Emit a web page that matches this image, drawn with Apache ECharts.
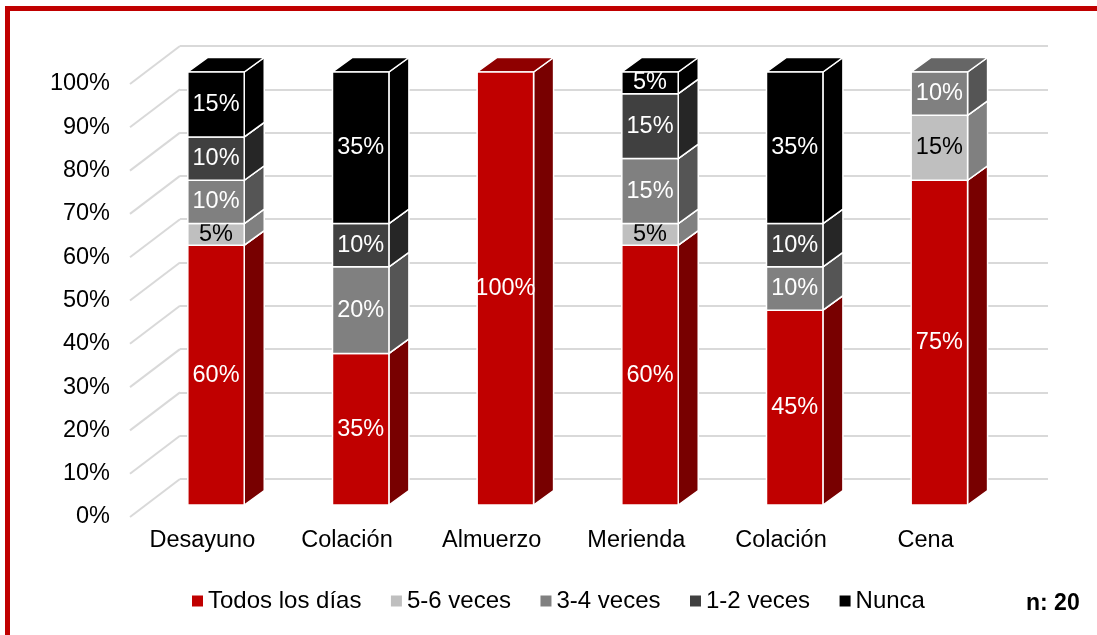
<!DOCTYPE html>
<html>
<head>
<meta charset="utf-8">
<script src="https://cdn.jsdelivr.net/npm/echarts@6/dist/echarts.min.js"></script>
<style>
html,body{margin:0;padding:0;background:#fff;}
#chart{width:1097px;height:635px;}
</style>
</head>
<body>
<div id="chart"></div>
<script>
const categories = ['Desayuno', 'Colación', 'Almuerzo', 'Merienda', 'Colación', 'Cena'];
const seriesNames = ['Todos los días', '5-6 veces', '3-4 veces', '1-2 veces', 'Nunca'];
const todosLosDias = [60, 35, 100, 60, 45, 75];
const cincoSeis = [5, 0, 0, 5, 0, 15];
const tresCuatro = [10, 20, 0, 15, 10, 10];
const unoDos = [10, 10, 0, 15, 10, 0];
const nunca = [15, 35, 0, 5, 35, 0];
const yTicks = [0, 10, 20, 30, 40, 50, 60, 70, 80, 90, 100];
const sampleNote = 'n: 20';

const values = [todosLosDias, cincoSeis, tresCuatro, unoDos, nunca];
const palette = [
  {front: '#C00000', side: '#780000', top: '#8f0000', label: '#ffffff'},
  {front: '#BFBFBF', side: '#808080', top: '#a6a6a6', label: '#000000'},
  {front: '#808080', side: '#555555', top: '#666666', label: '#ffffff'},
  {front: '#404040', side: '#262626', top: '#333333', label: '#ffffff'},
  {front: '#000000', side: '#000000', top: '#000000', label: '#ffffff'}
];
const FONT = '"Liberation Sans", Arial, sans-serif';
const FS = 23.5;
const FX = 13.7, FY = -12;      // bar front face offset from front plane
const DX = 20, DY = -14.5;      // bar depth
const WX = 50, WY = -38;        // back wall offset

const chart = echarts.init(document.getElementById('chart'));

function barRender(sIdx) {
  return function (params, api) {
    const i = api.value(0), base = api.value(1), top = api.value(2), v = api.value(3);
    if (!(v > 0)) return;
    const pb = api.coord([i, base]);
    const pt = api.coord([i, top]);
    const bw = api.size([1, 0])[0] * 0.39;
    const cx = pb[0] + FX;
    const x0 = cx - bw / 2, x1 = cx + bw / 2;
    const yb = pb[1] + FY, yt = pt[1] + FY;
    const c = palette[sIdx];
    const stroke = {stroke: '#ffffff', lineWidth: 1.5};
    return {
      type: 'group',
      children: [
        {type: 'polygon', shape: {points: [[x1, yb], [x1 + DX, yb + DY], [x1 + DX, yt + DY], [x1, yt]]},
          style: Object.assign({fill: c.side}, stroke)},
        {type: 'polygon', shape: {points: [[x0, yt], [x1, yt], [x1 + DX, yt + DY], [x0 + DX, yt + DY]]},
          style: Object.assign({fill: c.top}, stroke)},
        {type: 'rect', shape: {x: x0, y: yt, width: bw, height: yb - yt},
          style: Object.assign({fill: c.front}, stroke)},
        {type: 'text', x: cx, y: (yb + yt) / 2,
          style: {text: v + '%', fill: c.label, font: FS + 'px ' + FONT, align: 'center', verticalAlign: 'middle'}}
      ]
    };
  };
}

const barSeries = values.map((arr, s) => {
  const data = arr.map((v, i) => {
    let base = 0;
    for (let k = 0; k < s; k++) base += values[k][i];
    return [i, base, base + v, v];
  });
  return {
    type: 'custom', name: seriesNames[s], xAxisIndex: 0, yAxisIndex: 0,
    itemStyle: {color: palette[s].front},
    encode: {x: 0, y: 2},
    renderItem: barRender(s),
    data: data,
    z: 3
  };
});

const diagSeries = {
  type: 'custom', name: 'diag', xAxisIndex: 0, yAxisIndex: 0, silent: true, z: 1,
  encode: {x: 0, y: 1},
  data: yTicks.map(t => [0, t]),
  renderItem: function (params, api) {
    const p = api.coord([0, api.value(1)]);
    const x = params.coordSys.x;
    return {type: 'line', shape: {x1: x, y1: p[1], x2: x + WX, y2: p[1] + WY},
      style: {stroke: '#d9d9d9', lineWidth: 2}};
  }
};

chart.setOption({
  animation: false,
  backgroundColor: '#ffffff',
  textStyle: {fontFamily: FONT},
  grid: [
    {left: 130, right: 99, top: 84, bottom: 118},
    {left: 130 + WX, right: 99 - WX, top: 84 + WY, bottom: 118 - WY}
  ],
  xAxis: [
    {type: 'category', gridIndex: 0, data: categories,
      axisLine: {show: false}, axisTick: {show: false}, splitLine: {show: false},
      axisLabel: {color: '#000', fontSize: FS, fontFamily: FONT, margin: 12, interval: 0}},
    {type: 'category', gridIndex: 1, data: categories,
      axisLine: {show: false}, axisTick: {show: false}, splitLine: {show: false}, axisLabel: {show: false}}
  ],
  yAxis: [
    {type: 'value', gridIndex: 0, min: 0, max: 100, interval: 10,
      axisLine: {show: false}, axisTick: {show: false}, splitLine: {show: false},
      axisLabel: {formatter: '{value}%', color: '#000', fontSize: FS, fontFamily: FONT, margin: 20}},
    {type: 'value', gridIndex: 1, min: 0, max: 100, interval: 10,
      axisLine: {show: false}, axisTick: {show: false}, axisLabel: {show: false},
      splitLine: {show: true, lineStyle: {color: '#d9d9d9', width: 2}}}
  ],
  legend: {
    data: seriesNames, left: 187, top: 584, icon: 'rect', itemWidth: 11, itemHeight: 11, itemGap: 29.5,
    textStyle: {color: '#000', fontSize: 24, fontFamily: FONT}
  },
  graphic: [
    {type: 'rect', shape: {x: 7.5, y: 8.5, width: 1300, height: 900}, silent: true,
      style: {fill: 'none', stroke: '#C00000', lineWidth: 5}},
    {type: 'text', left: 1026, top: 592, silent: true,
      style: {text: sampleNote, fill: '#000', font: 'bold 23px ' + FONT}}
  ],
  series: [diagSeries].concat(barSeries)
});
</script>
</body>
</html>
